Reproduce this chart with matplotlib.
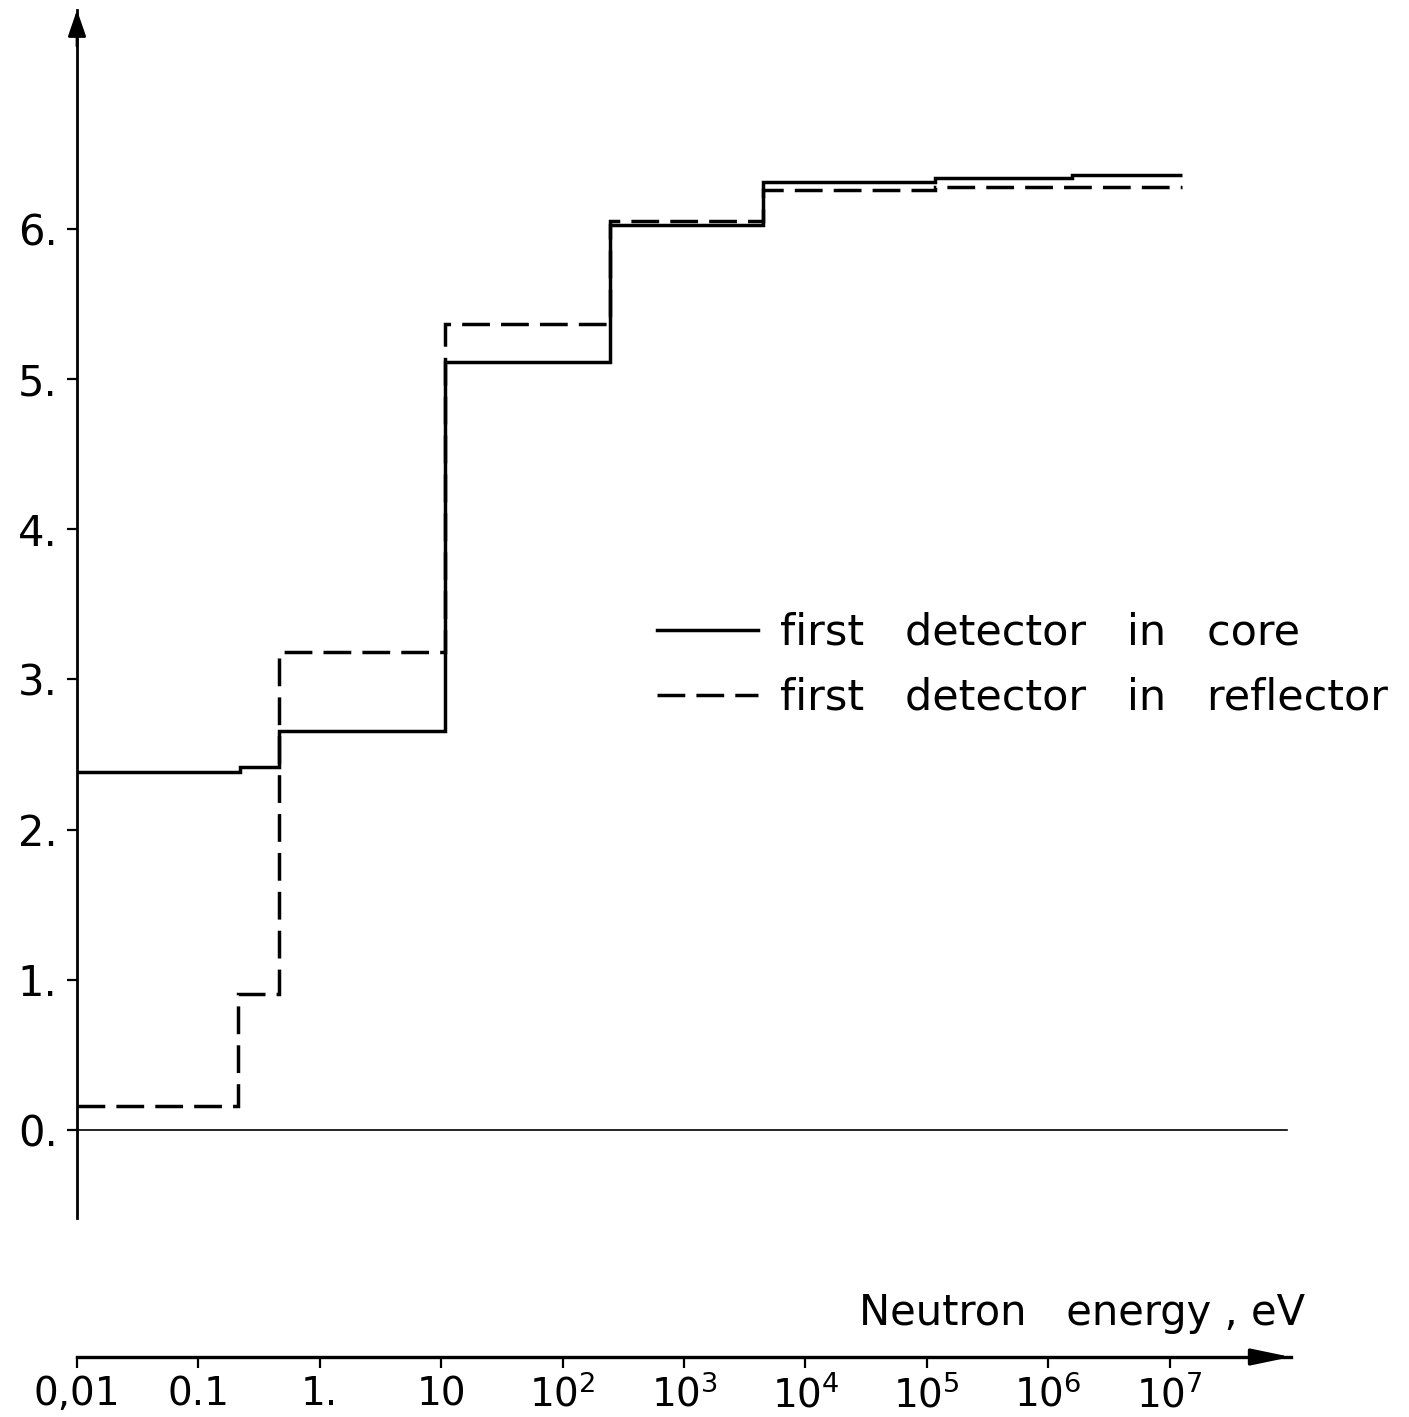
import matplotlib
matplotlib.use('Agg')
import matplotlib.pyplot as plt
from matplotlib.ticker import NullLocator

# ---- data ----
core_edges = [0.01, 0.22, 0.46, 10.7, 245, 4470, 1.17e5, 1.57e6, 1.26e7]
core_values = [2.386, 2.415, 2.659, 5.114, 6.027, 6.315, 6.337, 6.357]
refl_edges = [0.01, 0.212, 0.46, 10.7, 245, 4470, 1.17e5, 1.26e7]
refl_values = [0.162, 0.906, 3.183, 5.367, 6.055, 6.26, 6.28]

y_ticks = [0, 1, 2, 3, 4, 5, 6]
y_labels = ['0.', '1.', '2.', '3.', '4.', '5.', '6.']
x_ticks = [1e-2, 1e-1, 1e0, 1e1, 1e2, 1e3, 1e4, 1e5, 1e6, 1e7]
x_labels = ['0,01', '0.1', '1.', '10', r'$10^2$', r'$10^3$', r'$10^4$',
            r'$10^5$', r'$10^6$', r'$10^7$']
legend_labels = ['first   detector   in   core', 'first   detector   in   reflector']
x_title = 'Neutron   energy , eV'

plt.rcParams['font.family'] = ['DejaVu Sans']
plt.rcParams['mathtext.fontset'] = 'dejavusans'

W, H = 1409, 1417
fig = plt.figure(figsize=(W / 100, H / 100), dpi=100)

# main axes
ax = fig.add_axes([77 / W, 1 - 1218 / H, (1291 - 77) / W, (1218 - 10) / H])
ax.set_xscale('log')
ax.set_xlim(1e-2, 1e8)
ax.set_ylim(-0.586, 7.458)
for s in ['top', 'right', 'bottom']:
    ax.spines[s].set_visible(False)
ax.spines['left'].set_linewidth(2.0)
ax.xaxis.set_major_locator(NullLocator())
ax.xaxis.set_minor_locator(NullLocator())
ax.set_yticks(y_ticks, y_labels)
ax.tick_params(axis='y', direction='out', length=7, width=1.6, pad=7, labelsize=30)
ax.patch.set_visible(False)

lw = 2.5
h1 = ax.stairs(core_values, core_edges, baseline=None, color='k', lw=lw)
h2 = ax.stairs(refl_values, refl_edges, baseline=None, color='k', lw=lw,
               linestyle=(0, (8.0, 3.2)))
ax.axhline(0, xmin=0, xmax=0.997, color='k', lw=1.2)

ax.annotate('', xy=(0, 1), xycoords='axes fraction', xytext=(0, 0.97),
            textcoords='axes fraction',
            arrowprops=dict(arrowstyle='-|>,head_length=1.6,head_width=0.55',
                            color='k', lw=2.0, shrinkA=0, shrinkB=0,
                            mutation_scale=10))

ax.legend([h1, h2], legend_labels, loc='upper left', bbox_to_anchor=(0.478, 0.5017),
          frameon=False, fontsize=31, handlelength=2.33, handletextpad=0.53,
          labelspacing=0.53, borderpad=0, borderaxespad=0)

# bottom energy axis
ax2 = fig.add_axes([77 / W, 1 - 1357 / H, (1291 - 77) / W, 0.001])
ax2.set_xscale('log')
ax2.set_xlim(1e-2, 1e8)
for s in ['top', 'right', 'left']:
    ax2.spines[s].set_visible(False)
ax2.spines['bottom'].set_linewidth(2.4)
ax2.set_yticks([])
ax2.set_xticks(x_ticks, x_labels)
ax2.xaxis.set_minor_locator(NullLocator())
ax2.tick_params(axis='x', direction='out', length=8, width=1.6, pad=5, labelsize=28)
ax2.patch.set_visible(False)
ax2.annotate('', xy=(1, 0), xycoords='axes fraction', xytext=(0.97, 0),
             textcoords='axes fraction',
             arrowprops=dict(arrowstyle='-|>,head_length=2.4,head_width=0.5',
                             color='k', lw=2.4, shrinkA=0, shrinkB=0,
                             mutation_scale=10))

fig.text(1305 / W, 1 - 1325 / H, x_title, ha='right', va='baseline', fontsize=30)

fig.savefig('out.png', dpi=100)
